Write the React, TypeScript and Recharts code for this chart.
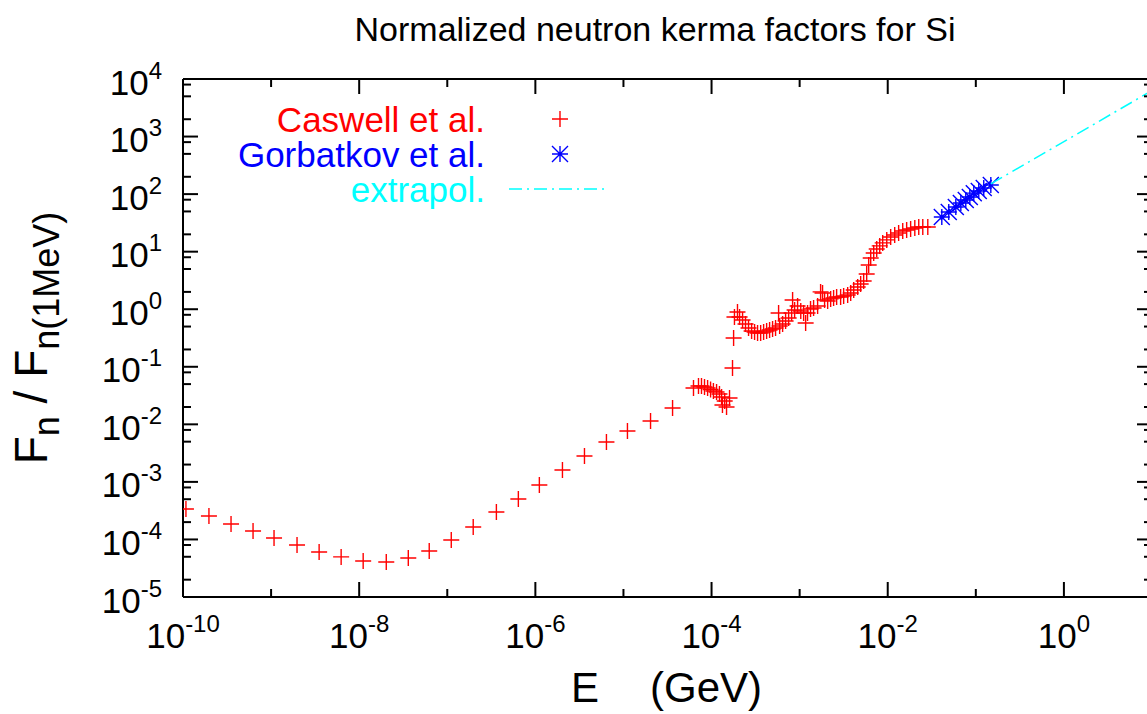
import React from 'react';
import { ScatterChart, Scatter, XAxis, YAxis, Legend } from 'recharts';

// ---------- data ----------
const CASWELL_E = [
  1.08e-10, 1.97e-10, 3.51e-10, 6.24e-10, 1.08e-9, 1.97e-9, 3.51e-9, 6.24e-9,
  1.11e-8, 2.03e-8, 3.61e-8, 6.24e-8, 1.11e-7, 1.97e-7, 3.61e-7, 6.41e-7,
  1.11e-6, 2.03e-6, 3.61e-6, 6.41e-6, 1.11e-5, 2.03e-5, 3.61e-5, 6.24e-5,
  7.11e-5, 7.69e-5, 8.32e-5, 9.02e-5, 9.75e-5, 1.05e-4, 1.14e-4, 1.23e-4,
  1.30e-4, 1.41e-4, 1.33e-4, 1.48e-4, 1.60e-4, 1.73e-4, 1.78e-4, 1.82e-4,
  1.97e-4, 2.08e-4, 2.25e-4, 2.43e-4, 2.63e-4, 2.85e-4, 3.08e-4, 3.33e-4,
  3.61e-4, 3.90e-4, 4.22e-4, 4.56e-4, 4.93e-4, 5.33e-4, 5.77e-4, 5.93e-4,
  6.41e-4, 6.93e-4, 7.50e-4, 8.32e-4, 8.11e-4, 8.77e-4, 9.48e-4, 1.03e-3,
  1.11e-3, 1.17e-3, 1.23e-3, 1.33e-3, 1.44e-3, 1.60e-3, 1.73e-3, 1.82e-3,
  1.92e-3, 2.08e-3, 2.25e-3, 2.43e-3, 2.63e-3, 2.92e-3, 3.16e-3, 3.51e-3,
  3.80e-3, 4.11e-3, 4.56e-3, 4.93e-3, 5.33e-3, 5.77e-3, 6.08e-3, 6.41e-3,
  6.93e-3, 7.50e-3, 8.11e-3, 8.77e-3, 9.75e-3, 1.08e-2, 1.20e-2, 1.33e-2,
  1.48e-2, 1.64e-2, 1.82e-2, 2.03e-2, 2.25e-2, 2.50e-2, 2.85e-2,
];
const CASWELL_F = [
  3.39e-4, 2.56e-4, 1.86e-4, 1.40e-4, 1.06e-4, 8.0e-5, 6.05e-5, 4.97e-5,
  4.23e-5, 4.06e-5, 4.77e-5, 6.3e-5, 9.8e-5, 1.65e-4, 3.0e-4, 5.05e-4,
  8.83e-4, 1.61e-3, 2.82e-3, 4.94e-3, 7.67e-3, 1.14e-2, 1.92e-2, 4.28e-2,
  4.63e-2, 4.63e-2, 4.46e-2, 4.28e-2, 4.04e-2, 3.80e-2, 3.65e-2, 3.37e-2,
  2.99e-2, 2.55e-2, 2.17e-2, 2.00e-2, 2.87e-2, 9.53e-2, 0.316, 0.733,
  0.895, 0.733, 0.650, 0.555, 0.472, 0.419, 0.403, 0.386,
  0.386, 0.403, 0.419, 0.436, 0.454, 0.472, 0.861, 0.512,
  0.555, 0.625, 0.705, 1.45, 0.861, 0.970, 1.14, 0.931,
  0.861, 0.577, 0.861, 1.01, 1.05, 1.14, 2.00, 1.91,
  1.45, 1.39, 1.51, 1.57, 1.63, 1.63, 1.70, 1.77,
  1.91, 2.16, 2.43, 2.74, 3.10, 4.09, 5.87, 7.76,
  9.48, 11.1, 12.6, 14.2, 16.0, 18.0, 19.5, 21.1,
  22.9, 23.8, 24.8, 25.8, 26.9, 26.9, 26.9,
];
const GORBATKOV_E = [4.11e-2, 4.93e-2, 5.93e-2, 6.76e-2, 7.69e-2, 8.55e-2, 9.48e-2, 0.108, 0.123, 0.148];
const GORBATKOV_F = [40.1, 48.9, 59.7, 70.1, 79.1, 89.1, 104, 113, 128, 144];
const EXTRAPOL_E = [0.148, 10];
const EXTRAPOL_F = [150, 6300];

const SERIES_NAMES = ['Caswell et al.', 'Gorbatkov et al.', 'extrapol.'];
const SERIES_COLORS = ['#ff0000', '#0000ff', '#00ffff'];

// ---------- axes ----------
const X_DOMAIN = [1e-10, 10];
const Y_DOMAIN = [1e-5, 1e4];
const X_MAJOR_TICKS = [1e-10, 1e-8, 1e-6, 1e-4, 1e-2, 1];
const X_MAJOR_LABELS = ['-10', '-8', '-6', '-4', '-2', '0'];
const X_MINOR_TICKS = [1e-9, 1e-7, 1e-5, 1e-3, 1e-1];
const Y_MAJOR_TICKS = [1e-5, 1e-4, 1e-3, 1e-2, 1e-1, 1, 10, 100, 1000, 10000];
const Y_MAJOR_LABELS = ['-5', '-4', '-3', '-2', '-1', '0', '1', '2', '3', '4'];
const Y_MINOR_MULTIPLIERS = [2, 5, 8];

const Y_MINOR_TICKS: number[] = [];
Y_MAJOR_TICKS.slice(0, -1).forEach((d) => Y_MINOR_MULTIPLIERS.forEach((m) => Y_MINOR_TICKS.push(d * m)));
const X_ALL_TICKS = [...X_MAJOR_TICKS, ...X_MINOR_TICKS].sort((a, b) => a - b);
const Y_ALL_TICKS = [...Y_MAJOR_TICKS, ...Y_MINOR_TICKS].sort((a, b) => a - b);

const caswellData = CASWELL_E.map((e, i) => ({ x: e, y: CASWELL_F[i] }));
const gorbatkovData = GORBATKOV_E.map((e, i) => ({ x: e, y: GORBATKOV_F[i] }));
const extrapolData = EXTRAPOL_E.map((e, i) => ({ x: e, y: EXTRAPOL_F[i] }));

const FONT = '"Liberation Sans", Arial, Helvetica, sans-serif';
const TICK_FONT = 35;
const SUP_FONT = 24;
const MAJOR_LEN = 15;
const MINOR_LEN = 8;

const near = (a: number, b: number) => Math.abs(Math.log10(a) - Math.log10(b)) < 1e-6;
const majorIndex = (list: number[], v: number) => list.findIndex((t) => near(t, v));

const XTickBottom = (props: any) => {
  const { x, y, payload } = props;
  const idx = majorIndex(X_MAJOR_TICKS, payload.value);
  return (
    <g>
      <line x1={x} x2={x} y1={y} y2={y - (idx >= 0 ? MAJOR_LEN : MINOR_LEN)} stroke="#000" strokeWidth={2} />
      {idx >= 0 && (
        <text x={x} y={y + 51} textAnchor="middle" fontSize={TICK_FONT} fontFamily={FONT} fill="#000">
          10<tspan dy={-16} fontSize={SUP_FONT}>{X_MAJOR_LABELS[idx]}</tspan>
        </text>
      )}
    </g>
  );
};

const XTickTop = (props: any) => {
  const { x, y, payload } = props;
  const idx = majorIndex(X_MAJOR_TICKS, payload.value);
  return <line x1={x} x2={x} y1={y} y2={y + (idx >= 0 ? MAJOR_LEN : MINOR_LEN)} stroke="#000" strokeWidth={2} />;
};

const YTickLeft = (props: any) => {
  const { x, y, payload } = props;
  const idx = majorIndex(Y_MAJOR_TICKS, payload.value);
  return (
    <g>
      <line x1={x} x2={x + (idx >= 0 ? MAJOR_LEN : MINOR_LEN)} y1={y} y2={y} stroke="#000" strokeWidth={2} />
      {idx >= 0 && (
        <text x={x - 21} y={y + 15.5} textAnchor="end" fontSize={TICK_FONT} fontFamily={FONT} fill="#000">
          10<tspan dy={-16} fontSize={SUP_FONT}>{Y_MAJOR_LABELS[idx]}</tspan>
        </text>
      )}
    </g>
  );
};

const YTickRight = (props: any) => {
  const { x, y, payload } = props;
  const idx = majorIndex(Y_MAJOR_TICKS, payload.value);
  return <line x1={x} x2={x - (idx >= 0 ? MAJOR_LEN : MINOR_LEN)} y1={y} y2={y} stroke="#000" strokeWidth={2} />;
};

const plusPath = (cx: number, cy: number, s: number) => `M${cx - s},${cy}H${cx + s}M${cx},${cy - s}V${cy + s}`;
const starPath = (cx: number, cy: number, s: number) =>
  `${plusPath(cx, cy, s)}M${cx - s},${cy - s}L${cx + s},${cy + s}M${cx - s},${cy + s}L${cx + s},${cy - s}`;

const PlusShape = (props: any) => {
  const { cx, cy } = props;
  if (cx == null || cy == null) return <g />;
  return <path d={plusPath(cx, cy, 8)} stroke={SERIES_COLORS[0]} strokeWidth={1.4} fill="none" />;
};
const StarShape = (props: any) => {
  const { cx, cy } = props;
  if (cx == null || cy == null) return <g />;
  return <path d={starPath(cx, cy, 8)} stroke={SERIES_COLORS[1]} strokeWidth={1.4} fill="none" />;
};
const NoShape = () => <g />;

const DASH = '13 5 2 5';

const renderLegend = (props: any) => {
  const payload: any[] = props.payload || [];
  const names = SERIES_NAMES.map((n, i) => (payload[i] && payload[i].value) || n);
  const baselines = [132, 167, 202];
  return (
    <svg width={700} height={220} style={{ display: 'block' }}>
      {names.map((name, i) => {
        const by = baselines[i];
        const cy = by - 13;
        return (
          <g key={name}>
            <text x={485} y={by} textAnchor="end" fontSize={35} fontFamily={FONT} fill={SERIES_COLORS[i]}>
              {name}
            </text>
            {i === 0 && <path d={plusPath(560, cy, 8)} stroke={SERIES_COLORS[0]} strokeWidth={1.4} fill="none" />}
            {i === 1 && <path d={starPath(560, cy, 8)} stroke={SERIES_COLORS[1]} strokeWidth={1.4} fill="none" />}
            {i === 2 && (
              <line x1={509} x2={606} y1={cy} y2={cy} stroke={SERIES_COLORS[2]} strokeWidth={1.5} strokeDasharray={DASH} />
            )}
          </g>
        );
      })}
    </svg>
  );
};

const axisLineStyle = { stroke: '#000', strokeWidth: 2 };

export default function App() {
  return (
    <div style={{ position: 'absolute', left: 0, top: 0, width: 1147, height: 714, overflow: 'hidden', background: '#fff' }}>
      <ScatterChart width={1160} height={714} margin={{ top: 78, right: 7, bottom: 116, left: 182 }}>
        <XAxis
          xAxisId="bottom"
          dataKey="x"
          type="number"
          scale="log"
          domain={X_DOMAIN}
          allowDataOverflow
          ticks={X_ALL_TICKS}
          interval={0}
          orientation="bottom"
          height={1}
          tickSize={0}
          tickMargin={0}
          axisLine={axisLineStyle}
          tick={<XTickBottom />}
        />
        <XAxis
          xAxisId="top"
          dataKey="x"
          type="number"
          scale="log"
          domain={X_DOMAIN}
          allowDataOverflow
          ticks={X_ALL_TICKS}
          interval={0}
          orientation="top"
          height={1}
          tickSize={0}
          tickMargin={0}
          axisLine={axisLineStyle}
          tick={<XTickTop />}
        />
        <YAxis
          yAxisId="left"
          dataKey="y"
          type="number"
          scale="log"
          domain={Y_DOMAIN}
          allowDataOverflow
          ticks={Y_ALL_TICKS}
          interval={0}
          orientation="left"
          width={1}
          tickSize={0}
          tickMargin={0}
          axisLine={axisLineStyle}
          tick={<YTickLeft />}
        />
        <YAxis
          yAxisId="right"
          dataKey="y"
          type="number"
          scale="log"
          domain={Y_DOMAIN}
          allowDataOverflow
          ticks={Y_ALL_TICKS}
          interval={0}
          orientation="right"
          width={1}
          tickSize={0}
          tickMargin={0}
          axisLine={axisLineStyle}
          tick={<YTickRight />}
        />
        <Scatter
          name={SERIES_NAMES[0]}
          data={caswellData}
          xAxisId="bottom"
          yAxisId="left"
          fill={SERIES_COLORS[0]}
          shape={<PlusShape />}
          isAnimationActive={false}
        />
        <Scatter
          name={SERIES_NAMES[1]}
          data={gorbatkovData}
          xAxisId="bottom"
          yAxisId="left"
          fill={SERIES_COLORS[1]}
          shape={<StarShape />}
          isAnimationActive={false}
        />
        <Scatter
          name={SERIES_NAMES[2]}
          data={extrapolData}
          xAxisId="bottom"
          yAxisId="left"
          fill={SERIES_COLORS[2]}
          line={{ stroke: SERIES_COLORS[2], strokeWidth: 1.5, strokeDasharray: DASH }}
          shape={<NoShape />}
          legendType="line"
          isAnimationActive={false}
        />
        <Legend
          layout="vertical"
          align="center"
          verticalAlign="middle"
          width={700}
          height={220}
          wrapperStyle={{ left: 0, top: 0, width: 700, height: 220 }}
          content={renderLegend}
        />
      </ScatterChart>
      <svg
        width={1147}
        height={714}
        style={{ position: 'absolute', left: 0, top: 0, pointerEvents: 'none' }}
      >
        <text x={655} y={41} textAnchor="middle" fontSize={34} fontFamily={FONT} fill="#000">
          Normalized neutron kerma factors for Si
        </text>
        <text x={571} y={702} fontSize={42} fontFamily={FONT} fill="#000">E</text>
        <text x={762} y={702} textAnchor="end" fontSize={42} fontFamily={FONT} fill="#000">(GeV)</text>
        <text
          x={47}
          y={338}
          transform="rotate(-90 47 338)"
          textAnchor="middle"
          fontSize={46}
          fontFamily={FONT}
          fill="#000"
        >
          F<tspan dy={12} fontSize={36}>n</tspan>
          <tspan dy={-12}> / F</tspan>
          <tspan dy={12} fontSize={36}>n(1MeV)</tspan>
        </text>
      </svg>
    </div>
  );
}
